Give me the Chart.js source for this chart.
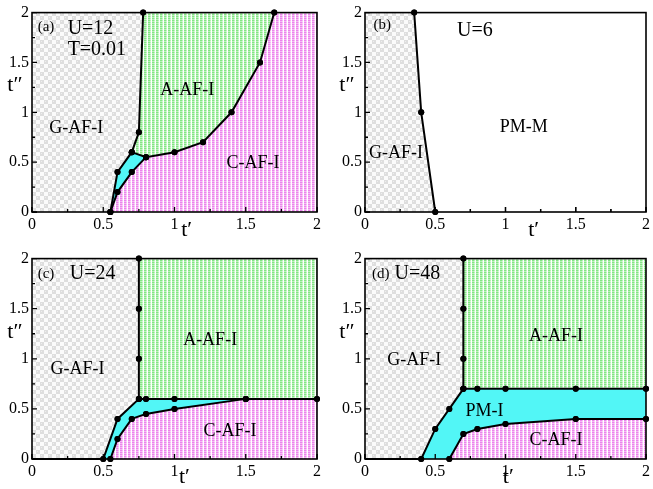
<!DOCTYPE html>
<html lang="en">
<head>
<meta charset="UTF-8">
<title>Phase diagrams t' - t''</title>
<style>
  body { margin: 0; background: #fff; }
  #wrap { position: relative; width: 653px; height: 489px; }
  canvas { position: absolute; }
</style>
</head>
<body>
<div id="wrap">
  <canvas id="pa" width="332" height="246" style="left:0;top:0"></canvas>
  <canvas id="pb" width="321" height="246" style="left:332px;top:0"></canvas>
  <canvas id="pc" width="332" height="243" style="left:0;top:246px"></canvas>
  <canvas id="pd" width="321" height="243" style="left:332px;top:246px"></canvas>
</div>

<script src="https://cdn.jsdelivr.net/npm/chart.js"></script>
<script>
// axis ticks (both axes run 0..2)
const tickValues = [0, 0.5, 1, 1.5, 2];
const minorTicks = [0.25, 0.75, 1.25, 1.75];

// (a) U=12, T=0.01 : phase boundaries
const aGx = [0.55, 0.6, 0.7, 0.75, 0.78];          // G-AF-I edge
const aGy = [0, 0.4, 0.6, 0.8, 2];
const aLowX = [0.55, 0.6, 0.7, 0.8];                // lower edge of mixed region
const aLowY = [0, 0.2, 0.4, 0.55];
const aAx = [0.7, 0.8, 1.0, 1.2, 1.4, 1.6, 1.7];    // A-AF-I / C-AF-I edge
const aAy = [0.6, 0.55, 0.6, 0.7, 1.0, 1.5, 2];

// (b) U=6
const bGx = [0.5, 0.4, 0.35];
const bGy = [0, 1, 2];

// (c) U=24
const cGx = [0.5, 0.6, 0.75, 0.75, 0.75, 0.75];
const cGy = [0, 0.4, 0.6, 1, 1.5, 2];
const cMidX = [0.75, 0.8, 1, 1.5, 2];
const cMidY = [0.6, 0.6, 0.6, 0.6, 0.6];
const cLowX = [0.55, 0.6, 0.7, 0.8, 1, 1.5];
const cLowY = [0, 0.2, 0.4, 0.45, 0.5, 0.6];

// (d) U=48
const dGx = [0.4, 0.5, 0.6, 0.7, 0.7, 0.7, 0.7];
const dGy = [0, 0.3, 0.5, 0.7, 1, 1.5, 2];
const dMidX = [0.7, 0.8, 1, 1.5, 2];
const dMidY = [0.7, 0.7, 0.7, 0.7, 0.7];
const dLowX = [0.6, 0.7, 0.8, 1, 1.5, 2];
const dLowY = [0, 0.25, 0.3, 0.35, 0.4, 0.4];

const FONT = '"Liberation Serif", "DejaVu Serif", serif';

function pts(xs, ys) { return xs.map((x, i) => ({x: x, y: ys[i]})); }
function rev(a) { return a.slice().reverse(); }
function P(x, y) { return {x: x, y: y}; }

// fill patterns
function tile(w, h, draw) {
  const c = document.createElement('canvas');
  c.width = w; c.height = h;
  const g = c.getContext('2d');
  draw(g);
  return g.createPattern(c, 'repeat');
}
const greyChecks = tile(8, 8, g => {
  g.fillStyle = '#fbfbfb'; g.fillRect(0, 0, 8, 8);
  g.fillStyle = '#dedede'; g.fillRect(0, 0, 4, 4); g.fillRect(4, 4, 4, 4);
  g.fillStyle = '#eeeeee'; g.fillRect(1, 1, 1, 1); g.fillRect(5, 5, 1, 1);
});
function stripes(dark, mid) {
  return tile(4, 2, g => {
    g.fillStyle = '#ffffff'; g.fillRect(0, 0, 4, 2);
    g.fillStyle = dark; g.fillRect(0, 0, 2, 2);
    g.fillStyle = mid; g.fillRect(2, 0, 1, 2);
    g.fillStyle = 'rgba(255,255,255,0.45)'; g.fillRect(0, 1, 4, 1);
  });
}
const greenStripes = stripes('#84e684', '#b6f2b6');
const pinkStripes = stripes('#ec84ec', '#f5b6f5');
const cyanFill = '#52f6f6';

// regions get a higher order so they are painted under the boundary lines
function region(data, color) {
  return { data: data, backgroundColor: color, borderColor: 'rgba(0,0,0,0)', borderWidth: 0,
           fill: 'shape', pointRadius: 0, showLine: true, order: 2 };
}
function boundary(data) {
  return { data: data, borderColor: '#000', borderWidth: 2, fill: false, showLine: true, clip: false,
           backgroundColor: '#000', pointBackgroundColor: '#000', pointBorderColor: '#000',
           pointRadius: c => (c.raw && c.raw.x === 0 ? 0 : 3), pointBorderWidth: 0, order: 1 };
}

// frame + inward ticks under the boundaries, titles and phase names on top
const panelDecor = {
  id: 'panelDecor',
  beforeDatasetsDraw(chart) {
    const {ctx, chartArea: a, scales: {x, y}} = chart;
    ctx.save();
    ctx.strokeStyle = '#000';
    ctx.lineWidth = 1.3;
    ctx.beginPath();
    tickValues.concat(minorTicks).forEach(v => {
      const len = tickValues.includes(v) ? 5 : 3;
      const px = x.getPixelForValue(v), py = y.getPixelForValue(v);
      ctx.moveTo(px, a.bottom); ctx.lineTo(px, a.bottom - len);
      ctx.moveTo(a.left, py); ctx.lineTo(a.left + len, py);
    });
    ctx.stroke();
    ctx.restore();
  },
  afterDatasetsDraw(chart, args, opts) {
    const {ctx, chartArea: a, scales: {x, y}} = chart;
    ctx.save();
    ctx.strokeStyle = '#000';
    ctx.lineWidth = 1.6;
    ctx.strokeRect(a.left, a.top, a.right - a.left, a.bottom - a.top);
    // ticks again so they show over the fills
    ctx.lineWidth = 1.3;
    ctx.beginPath();
    tickValues.concat(minorTicks).forEach(v => {
      const len = tickValues.includes(v) ? 5 : 3;
      const px = x.getPixelForValue(v), py = y.getPixelForValue(v);
      ctx.moveTo(px, a.bottom); ctx.lineTo(px, a.bottom - len);
      ctx.moveTo(a.left, py); ctx.lineTo(a.left + len, py);
    });
    ctx.stroke();
    // markers sitting on the frame stay on top
    chart.data.datasets.forEach((ds, i) => {
      if (ds.order !== 1) return;
      chart.getDatasetMeta(i).data.forEach(pt => {
        if (pt.options.radius > 0) {
          ctx.beginPath();
          ctx.fillStyle = '#000';
          ctx.arc(pt.x, pt.y, pt.options.radius, 0, Math.PI * 2);
          ctx.fill();
        }
      });
    });

    ctx.fillStyle = '#000';
    ctx.textBaseline = 'middle';
    ctx.textAlign = 'center';
    ctx.font = '22px ' + FONT;
    ctx.fillText('t\u2032', x.getPixelForValue(opts.tx), a.bottom + 18);
    ctx.fillText('t\u2033', a.left + opts.tyOff, y.getPixelForValue(opts.ty));

    opts.labels.forEach(l => {
      ctx.font = l.s + 'px ' + FONT;
      ctx.textAlign = l.a || 'center';
      ctx.fillText(l.t, x.getPixelForValue(l.x), y.getPixelForValue(l.y));
    });
    ctx.restore();
  }
};

function makeChart(id, datasets, pad, yWidth, xHeight, decor) {
  const tickFont = { family: FONT, size: 16 };
  return new Chart(document.getElementById(id), {
    type: 'line',
    data: { datasets: datasets },
    options: {
      responsive: false,
      animation: false,
      events: [],
      layout: { padding: pad, autoPadding: false },
      plugins: { legend: { display: false }, tooltip: { enabled: false }, panelDecor: decor },
      scales: {
        x: {
          type: 'linear', min: 0, max: 2,
          afterBuildTicks: s => { s.ticks = tickValues.map(v => ({value: v})); },
          afterFit: s => { s.height = xHeight; },
          grid: { display: false, drawTicks: false },
          border: { display: false },
          ticks: { font: tickFont, color: '#000', padding: 3, maxRotation: 0, autoSkip: false,
                   callback: v => String(v) }
        },
        y: {
          type: 'linear', min: 0, max: 2,
          afterBuildTicks: s => { s.ticks = tickValues.map(v => ({value: v})); },
          afterFit: s => { s.width = yWidth; },
          grid: { display: false, drawTicks: false },
          border: { display: false },
          ticks: { font: tickFont, color: '#000', padding: 3, autoSkip: false,
                   callback: v => String(v) }
        }
      }
    },
    plugins: [panelDecor]
  });
}

// ---- (a)
const aG = pts(aGx, aGy), aLow = pts(aLowX, aLowY), aA = pts(aAx, aAy);
makeChart('pa', [
  boundary(aG), boundary(aLow), boundary(aA),
  region([P(0, 0)].concat(aG, [P(0, 2)]), greyChecks),
  region(rev(aG.slice(2)).concat(aA.slice(1)), greenStripes),
  region(aLow.concat(aA.slice(2), [P(2, 2), P(2, 0)]), pinkStripes),
  region(aG.slice(0, 3).concat(rev(aLow)), cyanFill)
], {left: 0, top: 8, right: 15, bottom: 0}, 32, 34, {
  tx: 1.085, ty: 1.27, tyOff: -17,
  labels: [
    {t: '(a)', x: 0.04, y: 1.85, s: 15, a: 'left'},
    {t: 'U=12', x: 0.25, y: 1.84, s: 20, a: 'left'},
    {t: 'T=0.01', x: 0.25, y: 1.63, s: 20, a: 'left'},
    {t: 'G-AF-I', x: 0.31, y: 0.84, s: 18},
    {t: 'A-AF-I', x: 1.09, y: 1.22, s: 18},
    {t: 'C-AF-I', x: 1.55, y: 0.49, s: 18}
  ]
});

// ---- (b)
const bG = pts(bGx, bGy);
makeChart('pb', [
  boundary(bG),
  region([P(0, 0)].concat(bG, [P(0, 2)]), greyChecks)
], {left: 0, top: 8, right: 4, bottom: 0}, 33, 34, {
  tx: 1.2, ty: 1.27, tyOff: -18,
  labels: [
    {t: '(b)', x: 0.06, y: 1.87, s: 15, a: 'left'},
    {t: 'U=6', x: 0.655, y: 1.82, s: 20, a: 'left'},
    {t: 'PM-M', x: 1.13, y: 0.85, s: 18},
    {t: 'G-AF-I', x: 0.22, y: 0.59, s: 18}
  ]
});

// ---- (c)
const cG = pts(cGx, cGy), cMid = pts(cMidX, cMidY), cLow = pts(cLowX, cLowY);
makeChart('pc', [
  boundary([P(0, 0)].concat(cG)), boundary(cMid), boundary(cLow),
  region([P(0, 0)].concat(cG, [P(0, 2)]), greyChecks),
  region(rev(cG.slice(2)).concat(cMid.slice(1), [P(2, 2)]), greenStripes),
  region(cLow.concat([P(2, 0.6), P(2, 0)]), pinkStripes),
  region(cG.slice(0, 3).concat(cMid.slice(1, 4), rev(cLow)), cyanFill)
], {left: 0, top: 9, right: 15, bottom: 0}, 32, 30, {
  tx: 1.07, ty: 1.27, tyOff: -17,
  labels: [
    {t: '(c)', x: 0.04, y: 1.85, s: 15, a: 'left'},
    {t: 'U=24', x: 0.265, y: 1.85, s: 20, a: 'left'},
    {t: 'G-AF-I', x: 0.32, y: 0.90, s: 18},
    {t: 'A-AF-I', x: 1.25, y: 1.18, s: 18},
    {t: 'C-AF-I', x: 1.39, y: 0.28, s: 18}
  ]
});

// ---- (d)
const dG = pts(dGx, dGy), dMid = pts(dMidX, dMidY), dLow = pts(dLowX, dLowY);
makeChart('pd', [
  boundary([P(0, 0)].concat(dG)), boundary(dMid), boundary(dLow),
  region([P(0, 0)].concat(dG, [P(0, 2)]), greyChecks),
  region(rev(dG.slice(3)).concat(dMid.slice(1), [P(2, 2)]), greenStripes),
  region(dLow.concat([P(2, 0)]), pinkStripes),
  region(dG.slice(0, 4).concat(dMid.slice(1), rev(dLow)), cyanFill)
], {left: 0, top: 9, right: 3, bottom: 0}, 33, 30, {
  tx: 1.02, ty: 1.27, tyOff: -18,
  labels: [
    {t: '(d)', x: 0.05, y: 1.85, s: 15, a: 'left'},
    {t: 'U=48', x: 0.21, y: 1.85, s: 20, a: 'left'},
    {t: 'G-AF-I', x: 0.35, y: 0.99, s: 18},
    {t: 'A-AF-I', x: 1.36, y: 1.22, s: 18},
    {t: 'PM-I', x: 0.85, y: 0.48, s: 18},
    {t: 'C-AF-I', x: 1.36, y: 0.19, s: 18}
  ]
});
</script>
</body>
</html>
